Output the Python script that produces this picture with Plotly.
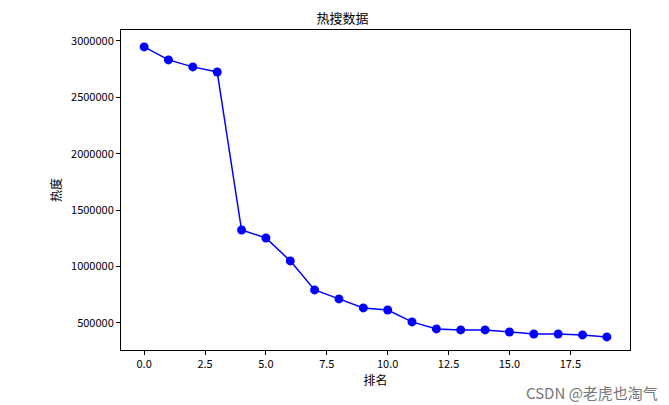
import plotly.graph_objects as go

rank = list(range(20))
heat = [2947000, 2832000, 2770000, 2725000, 1324000, 1253000, 1050000, 793000,
        713000, 633000, 615000, 509000, 447000, 438000, 438000, 420000,
        402000, 402000, 394000, 376000]
x_ticks = [0, 2.5, 5, 7.5, 10, 12.5, 15, 17.5]
y_ticks = [500000, 1000000, 1500000, 2000000, 2500000, 3000000]

font = "Noto Sans CJK SC, DejaVu Sans, sans-serif"

fig = go.Figure(go.Scatter(
    x=rank, y=heat, mode="lines+markers",
    line=dict(color="blue", width=1.5),
    marker=dict(color="blue", size=9),
))

axis = dict(showline=True, linecolor="black", linewidth=1, mirror=True,
            showgrid=False, zeroline=False, ticks="outside", ticklen=4,
            tickcolor="black", tickfont=dict(size=11, color="black"))

fig.update_layout(
    width=669, height=405, template="plotly_white",
    margin=dict(l=113, r=47, t=22, b=63),
    font=dict(family=font, color="black"),
    title=dict(text="热搜数据", x=0.5, xanchor="center", y=0.985, yanchor="top",
               font=dict(size=13)),
    xaxis=dict(axis, range=[-0.95, 19.95], tickvals=x_ticks,
               ticktext=[f"{v:.1f}" for v in x_ticks],
               title=dict(text="排名", font=dict(size=12), standoff=4)),
    yaxis=dict(axis, range=[260000, 3097000], tickvals=y_ticks,
               ticktext=[str(v) for v in y_ticks],
               title=dict(text="热度", font=dict(size=12), standoff=6)),
    showlegend=False,
)

fig.add_annotation(text="CSDN @老虎也淘气", xref="paper", yref="paper",
                   x=1.059, y=-0.134, xanchor="right", yanchor="middle", showarrow=False,
                   font=dict(size=15, color="#777"))

fig.write_html("out.html")
